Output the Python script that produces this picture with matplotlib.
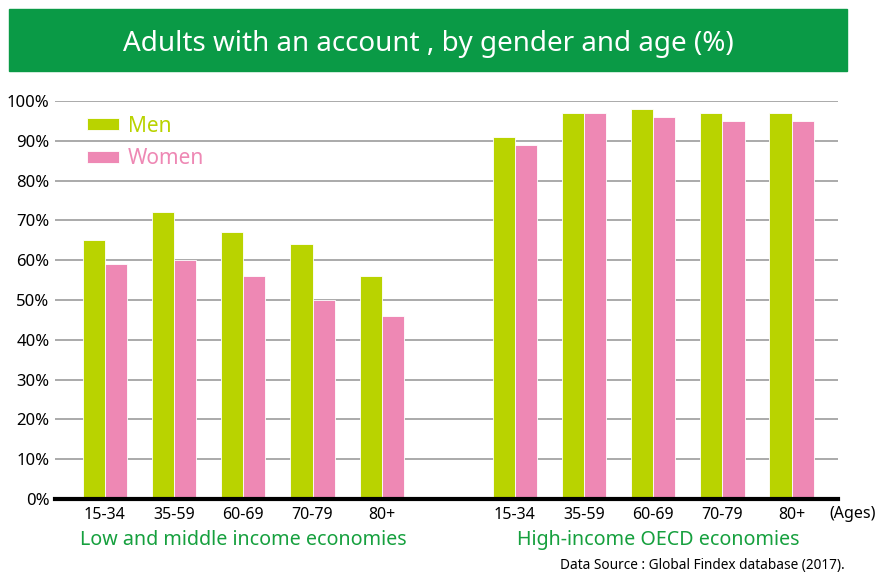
import matplotlib
matplotlib.use("Agg")
import matplotlib.pyplot as plt
from matplotlib.patches import Rectangle
import numpy as np

plt.rcParams["font.family"] = ["Noto Sans", "DejaVu Sans"]

# data
AGES = ["15-34", "35-59", "60-69", "70-79", "80+"]
LOW_MEN = [65, 72, 67, 64, 56]
LOW_WOMEN = [59, 60, 56, 50, 46]
HIGH_MEN = [91, 97, 98, 97, 97]
HIGH_WOMEN = [89, 97, 96, 95, 95]
YTICKS = [0, 10, 20, 30, 40, 50, 60, 70, 80, 90, 100]

GREEN = "#B9D300"
PINK = "#EE88B4"
BANNER = "#0A9A46"
LABEL_GREEN = "#16A03E"

fig = plt.figure(figsize=(8.85, 5.74), dpi=100)

# title banner
fig.patches.append(Rectangle((9 / 885, 1 - 71 / 574), 838 / 885, 62 / 574,
                             transform=fig.transFigure, color=BANNER, zorder=0))
fig.text(428 / 885, 1 - 44 / 574, "Adults with an account , by gender and age (%)",
         color="white", fontsize=20, ha="center", va="center")

ax = fig.add_axes([55 / 885, 1 - 499 / 574, 783 / 885, 398 / 574])

x_low = np.arange(len(AGES))
x_high = x_low + 5.92
w = 0.32
bar_kw = dict(zorder=3, edgecolor="white", linewidth=0.6)
b1 = ax.bar(x_low - w / 2, LOW_MEN, w, color=GREEN, label="Men", **bar_kw)
b2 = ax.bar(x_low + w / 2, LOW_WOMEN, w, color=PINK, label="Women", **bar_kw)
ax.bar(x_high - w / 2, HIGH_MEN, w, color=GREEN, **bar_kw)
ax.bar(x_high + w / 2, HIGH_WOMEN, w, color=PINK, **bar_kw)

ax.set_xlim(-0.72, 10.59)
ax.set_ylim(0, 100)
ax.set_yticks(YTICKS)
ax.set_yticklabels([f"{v}%" for v in YTICKS], fontsize=12)
ax.set_xticks(list(x_low) + list(x_high))
ax.set_xticklabels(AGES + AGES, fontsize=11.5)
ax.tick_params(length=0, pad=6)
ax.tick_params(axis="y", pad=4)
ax.grid(axis="y", color="#aaaaaa", lw=1.4, zorder=0)
ax.spines[["top", "right", "left"]].set_visible(False)
ax.spines["bottom"].set_linewidth(3)
ax.spines["bottom"].set_color("black")
ax.spines["bottom"].set_zorder(4)

ax.text(10.46, -3.7, "(Ages)", fontsize=11.5, ha="left", va="center", clip_on=False)
ax.text(2, -10.3, "Low and middle income economies", color=LABEL_GREEN,
        fontsize=14.2, ha="center", va="center")
ax.text(2 + 5.92 + 0.07, -10.3, "High-income OECD economies", color=LABEL_GREEN,
        fontsize=14.2, ha="center", va="center")
fig.text(845 / 885, 1 - 566 / 574, "Data Source : Global Findex database (2017).",
         fontsize=9.8, ha="right", va="center")

leg = ax.legend(handles=[b1, b2], loc="upper left", bbox_to_anchor=(0.017, 1.01),
                frameon=False, fontsize=15, labelcolor=[GREEN, PINK],
                handlelength=1.55, handleheight=0.5, handletextpad=0.4,
                labelspacing=0.55)

fig.savefig("out.png", dpi=100)
